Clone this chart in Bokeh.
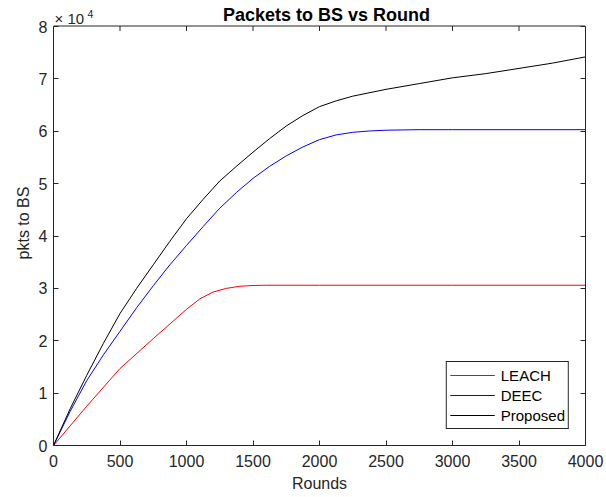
from bokeh.plotting import figure
from bokeh.models import (Range1d, LinearAxis, FixedTicker, CustomJSTickFormatter,
                          Legend, LegendItem)
from bokeh.core.properties import value
from bokeh.embed import file_html
from bokeh.resources import INLINE

# ---- data ----
leach_rounds = [0, 250, 500, 750, 1000, 1100, 1200, 1300, 1400, 1500, 1600, 2000, 2500, 3000, 3500, 4000]
leach_pkts = [0, 7500, 14700, 20400, 26000, 28000, 29300, 30000, 30400, 30550, 30600, 30600, 30600, 30600, 30600, 30600]

deec_rounds = [0, 125, 250, 375, 500, 625, 750, 875, 1000, 1125, 1250, 1375, 1500, 1625, 1750,
               1875, 2000, 2125, 2250, 2375, 2500, 2750, 3000, 3500, 4000]
deec_pkts = [0, 6500, 12400, 17300, 21800, 26300, 30500, 34500, 38200, 41800, 45300, 48300, 51000,
             53300, 55300, 57000, 58400, 59300, 59800, 60050, 60200, 60300, 60300, 60300, 60300]

prop_rounds = [0, 125, 250, 375, 500, 625, 750, 875, 1000, 1125, 1250, 1375, 1500, 1625, 1750,
               1875, 2000, 2125, 2250, 2500, 2750, 3000, 3250, 3500, 3750, 4000]
prop_pkts = [0, 7000, 13400, 19500, 25200, 30000, 34500, 39000, 43300, 47000, 50500, 53300, 56000,
             58600, 61000, 63000, 64700, 65800, 66700, 68000, 69100, 70200, 71000, 72000, 73000, 74200]

x_ticks = [0, 500, 1000, 1500, 2000, 2500, 3000, 3500, 4000]
y_ticks = [0, 10000, 20000, 30000, 40000, 50000, 60000, 70000, 80000]

title_text = "Packets to BS vs Round"
exp_base = "× 10"
exp_power = "4"

FONT = "Liberation Sans"
AX = "#262626"

W, H = 606, 497
LEFT, RIGHT, BOTTOM, TOP_GAP = 53, 21, 52, 26
frame_h = H - BOTTOM                        # frame spans from canvas top to the x axis
y_max = y_ticks[-1]
y_end = y_max * frame_h / (frame_h - TOP_GAP)   # headroom above the box for the title
upp = y_end / frame_h                        # data units per screen pixel (vertical)
xpp = (x_ticks[-1] - x_ticks[0]) / (W - LEFT - RIGHT)

p = figure(width=W, height=H, x_range=Range1d(x_ticks[0], x_ticks[-1]),
           y_range=Range1d(0, y_end),
           output_backend="svg", toolbar_location=None,
           min_border_left=LEFT, min_border_right=RIGHT, min_border_top=0, min_border_bottom=BOTTOM,
           background_fill_color="white", border_fill_color="white",
           outline_line_color=None)
p.xgrid.visible = False
p.ygrid.visible = False

r1 = p.line(leach_rounds, leach_pkts, line_color="#ff0000", line_width=1)
r2 = p.line(deec_rounds, deec_pkts, line_color="#0000ff", line_width=1)
r3 = p.line(prop_rounds, prop_pkts, line_color="#000000", line_width=1)

def style_axis(ax):
    ax.axis_line_color = AX
    ax.axis_line_width = 1
    ax.major_tick_line_color = AX
    ax.major_tick_in = 5
    ax.major_tick_out = 0
    ax.minor_tick_line_color = None
    ax.major_label_text_font = FONT
    ax.major_label_text_font_size = "16px"
    ax.major_label_text_color = AX
    ax.axis_label_text_font = FONT
    ax.axis_label_text_font_size = "16px"
    ax.axis_label_text_font_style = "normal"
    ax.axis_label_text_color = AX

xa = p.xaxis[0]
xa.ticker = FixedTicker(ticks=x_ticks)
style_axis(xa)
xa.major_label_standoff = 9
xa.axis_label = "Rounds"
xa.axis_label_standoff = 5

ya = p.yaxis[0]
ya.ticker = FixedTicker(ticks=y_ticks)
ya.formatter = CustomJSTickFormatter(code="return (tick/10000).toString();")
ya.bounds = (0, y_max)
style_axis(ya)
ya.major_label_standoff = 6
ya.axis_label = "pkts to BS"
ya.axis_label_standoff = 4

right = LinearAxis(ticker=FixedTicker(ticks=y_ticks), bounds=(0, y_max))
style_axis(right)
right.major_label_text_font_size = "1px"
right.major_label_text_color = None
right.major_label_standoff = 0
p.add_layout(right, "right")

# top edge of the box with inward ticks (half-pixel shift keeps the 1px line crisp)
y_edge = y_max + 0.5 * upp
p.line(x=[x_ticks[0], x_ticks[-1]], y=[y_edge, y_edge], line_color=AX, line_width=1)
p.segment(x0=x_ticks, y0=[y_edge] * len(x_ticks), x1=x_ticks, y1=[y_edge - 5 * upp] * len(x_ticks),
          line_color=AX, line_width=1)

# title and exponent (positions in screen pixels converted to data units)
p.text(x=[(x_ticks[0] + x_ticks[-1]) / 2 + 7 * xpp], y=[y_max + 12 * upp], text=[title_text],
       text_font=value(FONT), text_font_size=value("18px"),
       text_font_style="bold", text_color="black", text_align="center",
       text_baseline="alphabetic")
p.text(x=[x_ticks[0] + 1 * xpp], y=[y_max + 8 * upp], text=[exp_base],
       text_font=value(FONT), text_font_size=value("15px"), text_color=AX,
       text_align="left", text_baseline="alphabetic")
p.text(x=[x_ticks[0] + 34 * xpp], y=[y_max + 13 * upp], text=[exp_power],
       text_font=value(FONT), text_font_size=value("10.5px"), text_color=AX,
       text_align="left", text_baseline="alphabetic")

legend = Legend(items=[LegendItem(label="LEACH", renderers=[r1]),
                       LegendItem(label="DEEC", renderers=[r2]),
                       LegendItem(label="Proposed", renderers=[r3])],
                location="bottom_right", margin=16, padding=3, spacing=0,
                label_height=20, glyph_height=20, glyph_width=45, label_standoff=6,
                label_text_font=FONT, label_text_font_size="15px", label_text_color="black",
                border_line_color=AX, border_line_width=1, border_line_alpha=1,
                background_fill_color="white", background_fill_alpha=1)
p.add_layout(legend)

open("out.html", "w").write(file_html(p, INLINE))
